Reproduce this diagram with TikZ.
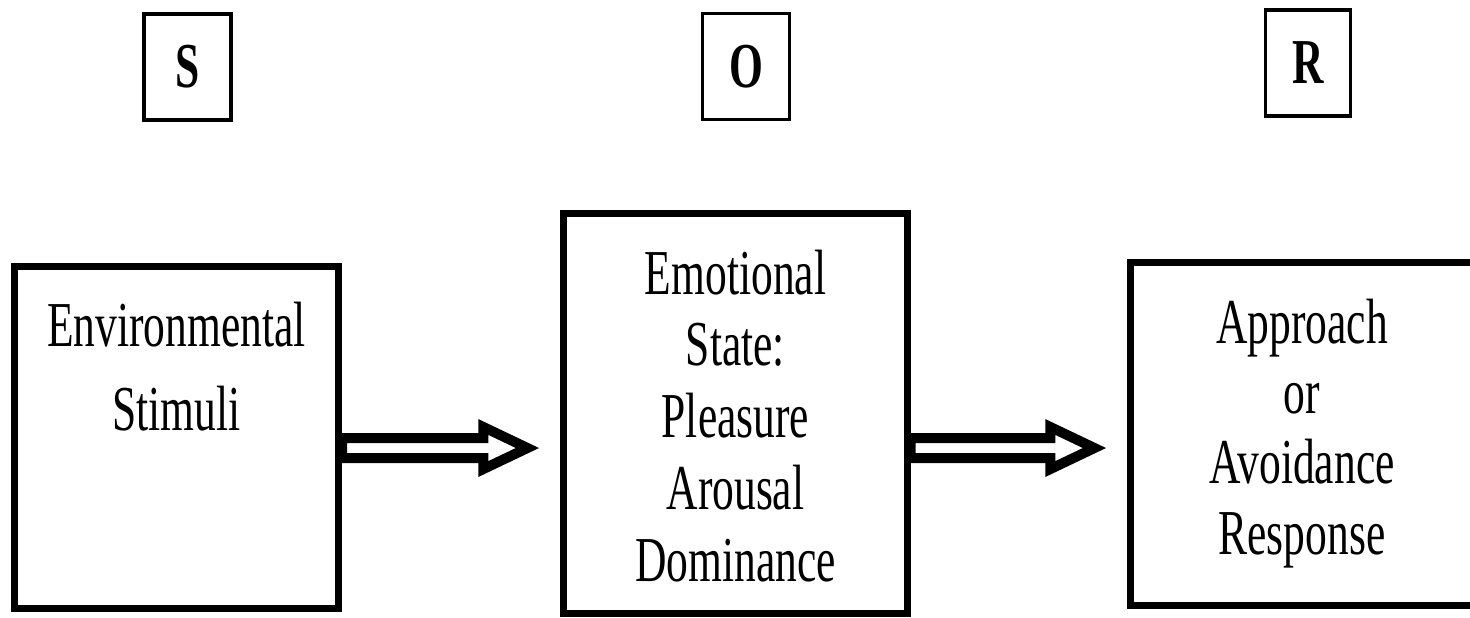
\documentclass[tikz,border=0pt]{standalone}
\usepackage{fontspec}
\setmainfont{Liberation Serif}
% condensed serif used for all labels
\newfontfamily\narrowserif[FakeStretch=0.68]{Liberation Serif}
\usetikzlibrary{calc}

\tikzset{
  bigbox/.style={draw=black, line width=0.07cm, fill=white, rectangle, inner sep=0pt},
  tagbox/.style={draw=black, line width=0.035cm, fill=white, rectangle, inner sep=0pt,
    minimum width=0.87cm, minimum height=1.06cm,
    font=\narrowserif\bfseries\fontsize{18.2pt}{20pt}\selectfont},
  boxtext/.style={align=center, anchor=north, inner sep=0pt},
  hollow/.style={draw=black, fill=white, line width=0.10cm, line join=miter},
}

\begin{document}
\begin{tikzpicture}[x=0.01cm, y=-0.01cm]
  \useasboundingbox (0,0) rectangle (1470,617);
  \clip (0,0) rectangle (1470,617);

  % S - O - R headings
  \node[tagbox] (tS) at (187.5,67) {S};
  \node[tagbox] (tO) at (746,66.5) {O};
  \node[tagbox, minimum width=0.85cm] (tR) at (1308,63) {R};

  % main boxes
  \node[bigbox, minimum width=3.24cm, minimum height=3.41cm] (env) at (176.5,437.5) {};
  \node[bigbox, minimum width=3.43cm, minimum height=3.99cm] (emo) at (735.5,413.5) {};
  \node[bigbox, minimum width=3.42cm, minimum height=3.425cm] (resp) at (1302,433.75) {};

  % box texts
  \node[boxtext, font=\narrowserif\fontsize{18.2pt}{23.9pt}\selectfont] (envtxt) at (176.5,301)
    {Environmental\\Stimuli};
  \node[boxtext, font=\narrowserif\fontsize{18.2pt}{20.4pt}\selectfont] (emotxt) at (735.5,249)
    {Emotional\\State:\\Pleasure\\Arousal\\Dominance};
  \node[boxtext, font=\narrowserif\fontsize{18.2pt}{20pt}\selectfont] (resptxt) at (1302,298)
    {Approach\\or\\Avoidance\\Response};

  % hollow block arrows between the boxes
  \coordinate (s1) at (env.east |- 0,448);
  \coordinate (t1) at ($(emo.west |- 0,448)+(-33,0)$);
  \coordinate (s2) at (emo.east |- 0,448);
  \coordinate (t2) at ($(resp.west |- 0,448)+(-33,0)$);

  \draw[hollow] ($(s1)+(0,-10)$) -- ($(t1)+(-44,-10)$) -- ($(t1)+(-44,-21)$) -- (t1)
    -- ($(t1)+(-44,21)$) -- ($(t1)+(-44,10)$) -- ($(s1)+(0,10)$) -- cycle;
  \draw[hollow] ($(s2)+(0,-10)$) -- ($(t2)+(-44,-10)$) -- ($(t2)+(-44,-21)$) -- (t2)
    -- ($(t2)+(-44,21)$) -- ($(t2)+(-44,10)$) -- ($(s2)+(0,10)$) -- cycle;
\end{tikzpicture}
\end{document}
